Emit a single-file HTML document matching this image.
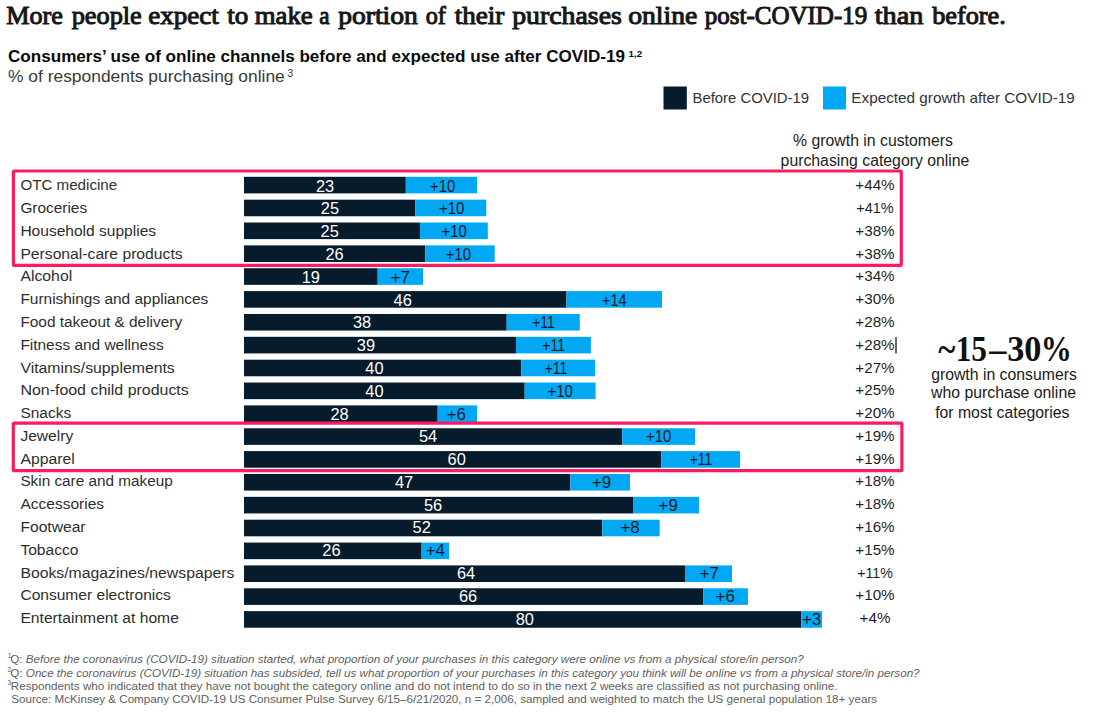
<!DOCTYPE html>
<html><head><meta charset="utf-8"><style>
html,body{margin:0;padding:0;background:#fff;}
body{width:1100px;height:720px;overflow:hidden;}
svg{display:block;}
text{font-family:"Liberation Sans",sans-serif;}
.ser{font-family:"Liberation Serif",serif;font-weight:bold;}
.ttl{font-family:"Liberation Serif",serif;font-size:25.6px;fill:#161616;stroke:#161616;stroke-width:1.0px;}
.lbl{font-size:15.5px;fill:#2e2e2e;}
.num{font-size:16.4px;fill:#ffffff;text-anchor:middle;}
.gr{font-size:15.7px;fill:#0b1a26;text-anchor:middle;}
.pct{font-size:15.2px;fill:#1f1f1f;text-anchor:middle;}
.big{font-family:"Liberation Serif",serif;font-weight:bold;font-size:35px;fill:#111;}
.fn{font-size:11.63px;fill:#606060;}
.it{font-style:italic;}
</style></head><body>
<svg width="1100" height="720" viewBox="0 0 1100 720">
<rect width="1100" height="720" fill="#fff"/>
<text x="6.20" y="23.5" class="ttl" textLength="56.59" lengthAdjust="spacingAndGlyphs">More</text>
<text x="71.70" y="23.5" class="ttl" textLength="70.12" lengthAdjust="spacingAndGlyphs">people</text>
<text x="148.20" y="23.5" class="ttl" textLength="70.63" lengthAdjust="spacingAndGlyphs">expect</text>
<text x="227.20" y="23.5" class="ttl" textLength="21.10" lengthAdjust="spacingAndGlyphs">to</text>
<text x="254.70" y="23.5" class="ttl" textLength="58.09" lengthAdjust="spacingAndGlyphs">make</text>
<text x="319.20" y="23.5" class="ttl" textLength="10.33" lengthAdjust="spacingAndGlyphs">a</text>
<text x="338.20" y="23.5" class="ttl" textLength="79.64" lengthAdjust="spacingAndGlyphs">portion</text>
<text x="425.70" y="23.5" class="ttl" textLength="20.12" lengthAdjust="spacingAndGlyphs">of</text>
<text x="454.70" y="23.5" class="ttl" textLength="49.62" lengthAdjust="spacingAndGlyphs">their</text>
<text x="512.20" y="23.5" class="ttl" textLength="109.62" lengthAdjust="spacingAndGlyphs">purchases</text>
<text x="628.20" y="23.5" class="ttl" textLength="69.11" lengthAdjust="spacingAndGlyphs">online</text>
<text x="704.70" y="23.5" class="ttl" textLength="162.60" lengthAdjust="spacingAndGlyphs">post-COVID-19</text>
<text x="874.70" y="23.5" class="ttl" textLength="48.62" lengthAdjust="spacingAndGlyphs">than</text>
<text x="932.20" y="23.5" class="ttl" textLength="73.59" lengthAdjust="spacingAndGlyphs">before.</text>
<text x="8" y="61.8" font-size="17" font-weight="bold" fill="#0a0a0a" textLength="617" lengthAdjust="spacingAndGlyphs">Consumers’ use of online channels before and expected use after COVID-19</text>
<text x="628.5" y="57.4" font-size="9.8" font-weight="bold" fill="#0a0a0a">1,2</text>
<text x="8" y="82.4" font-size="17.3" fill="#3a3a3a" textLength="276.8" lengthAdjust="spacingAndGlyphs">% of respondents purchasing online</text>
<text x="287.3" y="76.6" font-size="10.8" fill="#3a3a3a">3</text>
<rect x="663.5" y="86.5" width="23.3" height="23" fill="#061b2c"/>
<text x="692.5" y="103.2" font-size="15" fill="#333" textLength="116.5" lengthAdjust="spacingAndGlyphs">Before COVID-19</text>
<rect x="823" y="86.5" width="23" height="23" fill="#03a8f4"/>
<text x="851.3" y="103.2" font-size="15" fill="#333" textLength="223.5" lengthAdjust="spacingAndGlyphs">Expected growth after COVID-19</text>
<text x="873" y="145.5" font-size="15.8" fill="#222" text-anchor="middle">% growth in customers</text>
<text x="875" y="165.5" font-size="15.8" fill="#222" text-anchor="middle">purchasing category online</text>
<rect x="244.0" y="176.80" width="161.80" height="16.6" fill="#061b2c"/>
<rect x="405.80" y="176.80" width="71.20" height="16.6" fill="#03a8f4"/>
<text x="20.4" y="190.20" class="lbl" textLength="96.8" lengthAdjust="spacingAndGlyphs">OTC medicine</text>
<text x="325.10" y="191.60" class="num">23</text>
<text x="442.60" y="191.60" class="gr" textLength="25.3" lengthAdjust="spacingAndGlyphs">+10</text>
<text x="875" y="190.20" class="pct">+44%</text>
<rect x="244.0" y="199.66" width="171.30" height="16.6" fill="#061b2c"/>
<rect x="415.30" y="199.66" width="71.00" height="16.6" fill="#03a8f4"/>
<text x="20.4" y="212.99" class="lbl" textLength="66.7" lengthAdjust="spacingAndGlyphs">Groceries</text>
<text x="329.90" y="214.39" class="num">25</text>
<text x="451.60" y="214.39" class="gr" textLength="25.3" lengthAdjust="spacingAndGlyphs">+10</text>
<text x="875" y="212.99" class="pct" textLength="37.6" lengthAdjust="spacingAndGlyphs">+41%</text>
<rect x="244.0" y="222.52" width="176.00" height="16.6" fill="#061b2c"/>
<rect x="420.00" y="222.52" width="67.80" height="16.6" fill="#03a8f4"/>
<text x="20.4" y="235.78" class="lbl" textLength="135.7" lengthAdjust="spacingAndGlyphs">Household supplies</text>
<text x="329.70" y="237.18" class="num">25</text>
<text x="454.20" y="237.18" class="gr" textLength="25.3" lengthAdjust="spacingAndGlyphs">+10</text>
<text x="875" y="235.78" class="pct">+38%</text>
<rect x="244.0" y="245.38" width="181.30" height="16.6" fill="#061b2c"/>
<rect x="425.30" y="245.38" width="69.40" height="16.6" fill="#03a8f4"/>
<text x="20.4" y="258.57" class="lbl" textLength="162.2" lengthAdjust="spacingAndGlyphs">Personal-care products</text>
<text x="334.50" y="259.97" class="num">26</text>
<text x="458.30" y="259.97" class="gr" textLength="25.3" lengthAdjust="spacingAndGlyphs">+10</text>
<text x="875" y="258.57" class="pct">+38%</text>
<rect x="244.0" y="268.24" width="133.70" height="16.6" fill="#061b2c"/>
<rect x="377.70" y="268.24" width="45.30" height="16.6" fill="#03a8f4"/>
<text x="20.4" y="281.36" class="lbl" textLength="51.8" lengthAdjust="spacingAndGlyphs">Alcohol</text>
<text x="310.80" y="282.76" class="num">19</text>
<text x="400.30" y="282.76" class="gr" textLength="19.2" lengthAdjust="spacingAndGlyphs">+7</text>
<text x="875" y="281.36" class="pct">+34%</text>
<rect x="244.0" y="291.10" width="322.50" height="16.6" fill="#061b2c"/>
<rect x="566.50" y="291.10" width="95.50" height="16.6" fill="#03a8f4"/>
<text x="20.4" y="304.15" class="lbl" textLength="187.9" lengthAdjust="spacingAndGlyphs">Furnishings and appliances</text>
<text x="402.70" y="305.55" class="num">46</text>
<text x="614.20" y="305.55" class="gr" textLength="24.4" lengthAdjust="spacingAndGlyphs">+14</text>
<text x="875" y="304.15" class="pct">+30%</text>
<rect x="244.0" y="313.96" width="262.70" height="16.6" fill="#061b2c"/>
<rect x="506.70" y="313.96" width="73.10" height="16.6" fill="#03a8f4"/>
<text x="20.4" y="326.94" class="lbl" textLength="161.7" lengthAdjust="spacingAndGlyphs">Food takeout &amp; delivery</text>
<text x="362.00" y="328.34" class="num">38</text>
<text x="543.50" y="328.34" class="gr" textLength="22.6" lengthAdjust="spacingAndGlyphs">+11</text>
<text x="875" y="326.94" class="pct">+28%</text>
<rect x="244.0" y="336.82" width="272.00" height="16.6" fill="#061b2c"/>
<rect x="516.00" y="336.82" width="74.90" height="16.6" fill="#03a8f4"/>
<text x="20.4" y="349.73" class="lbl" textLength="143.2" lengthAdjust="spacingAndGlyphs">Fitness and wellness</text>
<text x="365.90" y="351.13" class="num">39</text>
<text x="553.60" y="351.13" class="gr" textLength="22.6" lengthAdjust="spacingAndGlyphs">+11</text>
<text x="875" y="349.73" class="pct">+28%</text>
<rect x="244.0" y="359.68" width="277.20" height="16.6" fill="#061b2c"/>
<rect x="521.20" y="359.68" width="73.90" height="16.6" fill="#03a8f4"/>
<text x="20.4" y="372.52" class="lbl" textLength="154.4" lengthAdjust="spacingAndGlyphs">Vitamins/supplements</text>
<text x="374.40" y="373.92" class="num">40</text>
<text x="556.00" y="373.92" class="gr" textLength="22.6" lengthAdjust="spacingAndGlyphs">+11</text>
<text x="875" y="372.52" class="pct">+27%</text>
<rect x="244.0" y="382.54" width="280.70" height="16.6" fill="#061b2c"/>
<rect x="524.70" y="382.54" width="70.90" height="16.6" fill="#03a8f4"/>
<text x="20.4" y="395.31" class="lbl" textLength="168.4" lengthAdjust="spacingAndGlyphs">Non-food child products</text>
<text x="374.40" y="396.71" class="num">40</text>
<text x="560.20" y="396.71" class="gr" textLength="25.3" lengthAdjust="spacingAndGlyphs">+10</text>
<text x="875" y="395.31" class="pct">+25%</text>
<rect x="244.0" y="405.40" width="193.70" height="16.6" fill="#061b2c"/>
<rect x="437.70" y="405.40" width="39.30" height="16.6" fill="#03a8f4"/>
<text x="20.4" y="418.10" class="lbl" textLength="50.8" lengthAdjust="spacingAndGlyphs">Snacks</text>
<text x="339.50" y="419.50" class="num">28</text>
<text x="456.30" y="419.50" class="gr" textLength="19.2" lengthAdjust="spacingAndGlyphs">+6</text>
<text x="875" y="418.10" class="pct">+20%</text>
<rect x="244.0" y="428.26" width="378.20" height="16.6" fill="#061b2c"/>
<rect x="622.20" y="428.26" width="72.80" height="16.6" fill="#03a8f4"/>
<text x="20.4" y="440.89" class="lbl" textLength="52.8" lengthAdjust="spacingAndGlyphs">Jewelry</text>
<text x="428.00" y="442.29" class="num">54</text>
<text x="658.70" y="442.29" class="gr" textLength="25.3" lengthAdjust="spacingAndGlyphs">+10</text>
<text x="875" y="440.89" class="pct">+19%</text>
<rect x="244.0" y="451.12" width="417.20" height="16.6" fill="#061b2c"/>
<rect x="661.20" y="451.12" width="78.90" height="16.6" fill="#03a8f4"/>
<text x="20.4" y="463.68" class="lbl" textLength="54.3" lengthAdjust="spacingAndGlyphs">Apparel</text>
<text x="456.70" y="465.08" class="num">60</text>
<text x="701.00" y="465.08" class="gr" textLength="22.6" lengthAdjust="spacingAndGlyphs">+11</text>
<text x="875" y="463.68" class="pct">+19%</text>
<rect x="244.0" y="473.98" width="326.40" height="16.6" fill="#061b2c"/>
<rect x="570.40" y="473.98" width="59.60" height="16.6" fill="#03a8f4"/>
<text x="20.4" y="486.47" class="lbl" textLength="152.4" lengthAdjust="spacingAndGlyphs">Skin care and makeup</text>
<text x="404.10" y="487.87" class="num">47</text>
<text x="601.60" y="487.87" class="gr" textLength="19.2" lengthAdjust="spacingAndGlyphs">+9</text>
<text x="875" y="486.47" class="pct">+18%</text>
<rect x="244.0" y="496.84" width="389.50" height="16.6" fill="#061b2c"/>
<rect x="633.50" y="496.84" width="65.50" height="16.6" fill="#03a8f4"/>
<text x="20.4" y="509.26" class="lbl" textLength="83.7" lengthAdjust="spacingAndGlyphs">Accessories</text>
<text x="433.00" y="510.66" class="num">56</text>
<text x="668.20" y="510.66" class="gr" textLength="19.2" lengthAdjust="spacingAndGlyphs">+9</text>
<text x="875" y="509.26" class="pct">+18%</text>
<rect x="244.0" y="519.70" width="358.30" height="16.6" fill="#061b2c"/>
<rect x="602.30" y="519.70" width="57.40" height="16.6" fill="#03a8f4"/>
<text x="20.4" y="532.05" class="lbl" textLength="65.2" lengthAdjust="spacingAndGlyphs">Footwear</text>
<text x="421.70" y="533.45" class="num">52</text>
<text x="630.00" y="533.45" class="gr" textLength="19.2" lengthAdjust="spacingAndGlyphs">+8</text>
<text x="875" y="532.05" class="pct">+16%</text>
<rect x="244.0" y="542.56" width="177.60" height="16.6" fill="#061b2c"/>
<rect x="421.60" y="542.56" width="27.40" height="16.6" fill="#03a8f4"/>
<text x="20.4" y="554.84" class="lbl" textLength="58.1" lengthAdjust="spacingAndGlyphs">Tobacco</text>
<text x="331.40" y="556.24" class="num">26</text>
<text x="435.30" y="556.24" class="gr" textLength="19.2" lengthAdjust="spacingAndGlyphs">+4</text>
<text x="875" y="554.84" class="pct">+15%</text>
<rect x="244.0" y="565.42" width="441.00" height="16.6" fill="#061b2c"/>
<rect x="685.00" y="565.42" width="47.00" height="16.6" fill="#03a8f4"/>
<text x="20.4" y="577.63" class="lbl" textLength="214.0" lengthAdjust="spacingAndGlyphs">Books/magazines/newspapers</text>
<text x="466.00" y="579.03" class="num">64</text>
<text x="709.30" y="579.03" class="gr" textLength="19.2" lengthAdjust="spacingAndGlyphs">+7</text>
<text x="875" y="577.63" class="pct" textLength="35.6" lengthAdjust="spacingAndGlyphs">+11%</text>
<rect x="244.0" y="588.28" width="459.40" height="16.6" fill="#061b2c"/>
<rect x="703.40" y="588.28" width="44.50" height="16.6" fill="#03a8f4"/>
<text x="20.4" y="600.42" class="lbl" textLength="150.5" lengthAdjust="spacingAndGlyphs">Consumer electronics</text>
<text x="468.00" y="601.82" class="num">66</text>
<text x="725.20" y="601.82" class="gr" textLength="19.2" lengthAdjust="spacingAndGlyphs">+6</text>
<text x="875" y="600.42" class="pct">+10%</text>
<rect x="244.0" y="611.14" width="557.20" height="16.6" fill="#061b2c"/>
<rect x="801.20" y="611.14" width="20.80" height="16.6" fill="#03a8f4"/>
<text x="20.4" y="623.21" class="lbl" textLength="158.5" lengthAdjust="spacingAndGlyphs">Entertainment at home</text>
<text x="524.80" y="624.61" class="num">80</text>
<text x="811.60" y="624.61" class="gr" textLength="19.2" lengthAdjust="spacingAndGlyphs">+3</text>
<text x="875" y="623.21" class="pct">+4%</text>
<rect x="895.2" y="337.1" width="1.6" height="16.4" fill="#444"/>
<rect x="13.4" y="171" width="887.9" height="94.3" rx="1" fill="none" stroke="#f81c64" stroke-width="3.2"/>
<rect x="13.3" y="423.1" width="888.6" height="47.6" rx="1" fill="none" stroke="#f81c64" stroke-width="3.2"/>
<text x="938.20" y="360.5" class="big" textLength="17.10" lengthAdjust="spacingAndGlyphs">~</text>
<text x="955.70" y="360.5" class="big" textLength="31.36" lengthAdjust="spacingAndGlyphs">15</text>
<text x="989.20" y="360.5" class="big" textLength="17.22" lengthAdjust="spacingAndGlyphs">–</text>
<text x="1007.20" y="360.5" class="big" textLength="34.23" lengthAdjust="spacingAndGlyphs">30</text>
<text x="1040.70" y="360.5" class="big" textLength="31.08" lengthAdjust="spacingAndGlyphs">%</text>
<text x="1004" y="379.5" font-size="15.8" fill="#1a1a1a" text-anchor="middle">growth in consumers</text>
<text x="1003.5" y="398.4" font-size="15.8" fill="#1a1a1a" text-anchor="middle">who purchase online</text>
<text x="1002.3" y="418" font-size="15.8" fill="#1a1a1a" text-anchor="middle">for most categories</text>
<text x="7.7" y="658.3" font-size="6.5" fill="#606060">1</text>
<text x="10.3" y="663.0" class="fn" textLength="793.4" lengthAdjust="spacingAndGlyphs">Q: <tspan class="it">Before the coronavirus (COVID-19) situation started, what proportion of your purchases in this category were online vs from a physical store/in person?</tspan></text>
<text x="7.6" y="672.0" font-size="6.5" fill="#606060">2</text>
<text x="10.3" y="676.6" class="fn" textLength="909.3" lengthAdjust="spacingAndGlyphs">Q: <tspan class="it">Once the coronavirus (COVID-19) situation has subsided, tell us what proportion of your purchases in this category you think will be online vs from a physical store/in person?</tspan></text>
<text x="7.6" y="685.3" font-size="6.5" fill="#606060">3</text>
<text x="10.8" y="689.7" class="fn" textLength="826.8" lengthAdjust="spacingAndGlyphs">Respondents who indicated that they have not bought the category online and do not intend to do so in the next 2 weeks are classified as not purchasing online.</text>
<text x="11.2" y="703.4" class="fn" textLength="865.9" lengthAdjust="spacingAndGlyphs">Source: McKinsey &amp; Company COVID-19 US Consumer Pulse Survey 6/15–6/21/2020, n = 2,006, sampled and weighted to match the US general population 18+ years</text>
</svg>
</body></html>
